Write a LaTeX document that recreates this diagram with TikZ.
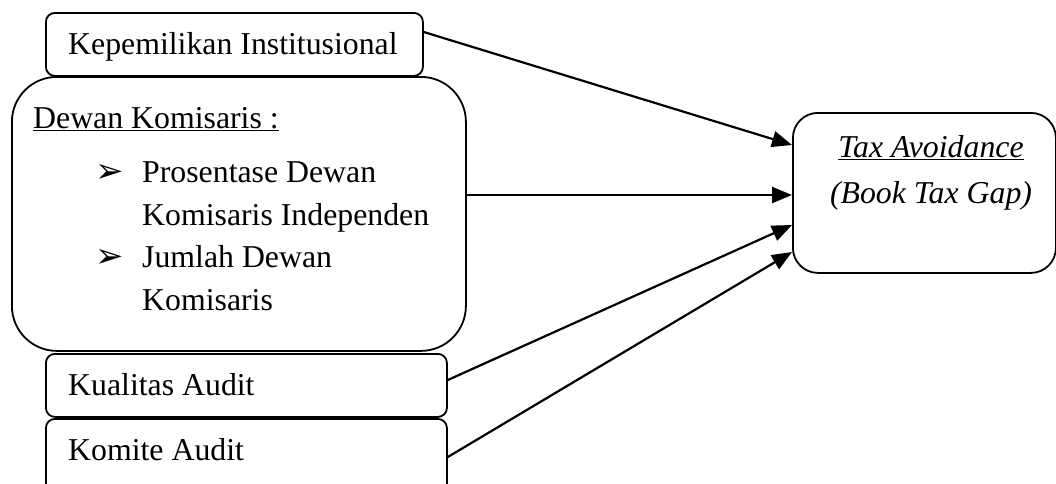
\documentclass[tikz,border=0pt]{standalone}
\usepackage{fontspec}
\setmainfont{Liberation Serif}
\newfontfamily\dejavu{DejaVu Sans}
\usetikzlibrary{arrows.meta}
\begin{document}
\begin{tikzpicture}[x=1pt,y=-1pt,
  box/.style={draw, line width=1.8pt, anchor=north west, inner sep=0pt},
  lbl/.style={anchor=base west, inner sep=0pt, font=\fontsize{31.8}{45}\selectfont},
  clbl/.style={anchor=base, inner sep=0pt, font=\fontsize{31.8}{45}\selectfont\itshape},
  bul/.style={anchor=base west, inner sep=0pt, font=\dejavu\fontsize{34}{40}\selectfont},
  conn/.style={line width=2.2pt, -{Triangle[length=20pt,width=16pt]}}]
\useasboundingbox (0,0) rectangle (1056,483);
% boxes
\node[box, rounded corners=9pt, minimum width=377pt, minimum height=63pt] (k) at (45,12) {};
\node[box, rounded corners=45pt, minimum width=454pt, minimum height=274pt] (d) at (11,76) {};
\node[box, rounded corners=9pt, minimum width=401pt, minimum height=63pt] (q) at (45,353) {};
\node[box, rounded corners=9pt, minimum width=401pt, minimum height=75pt] (c) at (45,418) {};
\node[box, rounded corners=25pt, minimum width=263pt, minimum height=160pt] (t) at (792,112) {};
% texts
\node[lbl] (kt) at (68,54) {Kepemilikan Institusional};
\node[lbl] (dt) at (33,128) {\underline{Dewan Komisaris :}};
\node[bul] (b1) at (95,182) {➢};
\node[lbl] (d1) at (142,182) {Prosentase Dewan};
\node[lbl] (d2) at (142,225) {Komisaris Independen};
\node[bul] (b2) at (95,267) {➢};
\node[lbl] (d3) at (142,267) {Jumlah Dewan};
\node[lbl] (d4) at (142,310) {Komisaris};
\node[lbl] (qt) at (68,395) {Kualitas Audit};
\node[lbl] (ct) at (68,460) {Komite Audit};
\node[clbl] (t1) at (931,157) {\underline{Tax Avoidance}};
\node[clbl] (t2) at (931,203) {(Book Tax Gap)};
% connectors
\draw[conn] (k.east |- 0,32) -- (t.west |- 0,145);
\draw[conn] (d.east |- 0,195) -- (t.west |- 0,195);
\draw[conn] (q.east |- 0,380) -- (t.west |- 0,225);
\draw[conn] (c.east |- 0,457) -- (t.west |- 0,252);
\end{tikzpicture}
\end{document}
